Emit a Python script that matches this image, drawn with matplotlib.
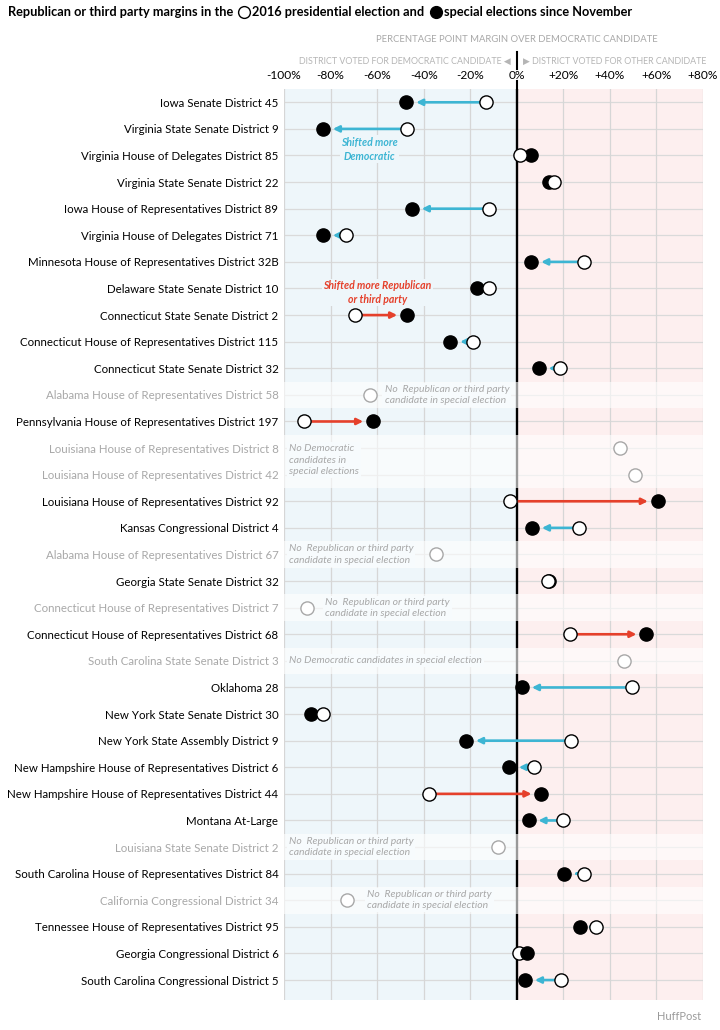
import numpy as np
import matplotlib
matplotlib.use("Agg")
from matplotlib import pyplot as plt
from matplotlib.lines import Line2D

plt.rcParams['font.family'] = ['Lato', 'DejaVu Sans']

nan = np.nan

districts = [
    "Iowa Senate District 45",
    "Virginia State Senate District 9",
    "Virginia House of Delegates District 85",
    "Virginia State Senate District 22",
    "Iowa House of Representatives District 89",
    "Virginia House of Delegates District 71",
    "Minnesota House of Representatives District 32B",
    "Delaware State Senate District 10",
    "Connecticut State Senate District 2",
    "Connecticut House of Representatives District 115",
    "Connecticut State Senate District 32",
    "Alabama House of Representatives District 58",
    "Pennsylvania House of Representatives District 197",
    "Louisiana House of Representatives District 8",
    "Louisiana House of Representatives District 42",
    "Louisiana House of Representatives District 92",
    "Kansas Congressional District 4",
    "Alabama House of Representatives District 67",
    "Georgia State Senate District 32",
    "Connecticut House of Representatives District 7",
    "Connecticut House of Representatives District 68",
    "South Carolina State Senate District 3",
    "Oklahoma 28",
    "New York State Senate District 30",
    "New York State Assembly District 9",
    "New Hampshire House of Representatives District 6",
    "New Hampshire House of Representatives District 44",
    "Montana At-Large",
    "Louisiana State Senate District 2",
    "South Carolina House of Representatives District 84",
    "California Congressional District 34",
    "Tennessee House of Representatives District 95",
    "Georgia Congressional District 6",
    "South Carolina Congressional District 5",
]

# margin in 2016 presidential election (open circles)
pres_2016 = [-13.4, -47.2, 1.3, 15.8, -11.8, -73.4, 28.8, -11.8, -69.3, -18.7,
             18.7, -63.2, -91.5, 44.5, 51.0, -2.9, 26.9, -34.6, 13.2, -90.3,
             22.7, 45.9, 49.4, -83.2, 23.1, 7.5, -37.6, 19.7, -8.2, 28.7,
             -73.0, 34.0, 1.1, 18.8]

# margin in the special election (filled circles), nan = not contested
special = [-47.4, -83.2, 5.9, 14.0, -45.0, -83.2, 6.3, -17.0, -47.2, -28.5,
           9.5, nan, -61.8, nan, nan, 60.5, 6.6, nan, 13.9, nan,
           55.6, nan, 2.3, -88.5, -21.7, -3.3, 10.5, 5.1, nan, 20.4,
           nan, 27.3, 4.3, 3.6]

tick_vals = [-100, -80, -60, -40, -20, 0, 20, 40, 60, 80]
tick_labels = ["-100%", "-80%", "-60%", "-40%", "-20%", "0%",
               "+20%", "+40%", "+60%", "+80%"]

BLUE = "#3db5d3"
RED = "#e5402b"
GRAY = "#a8a8a8"
BG_BLUE = "#eef6fa"
BG_PINK = "#fdefef"

W, H = 720, 1030
fig = plt.figure(figsize=(W / 100, H / 100), dpi=100)
ax = fig.add_axes([284 / W, 1 - 1000 / H, (703 - 284) / W, (1000 - 89) / H])

n = len(districts)
ax.set_xlim(-100, 80)
ax.set_ylim(n - 0.25, -0.5)

ax.axvspan(-100, 0, color=BG_BLUE, zorder=0, lw=0)
ax.axvspan(0, 80, color=BG_PINK, zorder=0, lw=0)
for i in range(n):
    ax.axhline(i, color="#dadada", lw=0.9, zorder=1)
for v in tick_vals:
    if v != 0:
        ax.axvline(v, color="#d6d6d6", lw=0.9, zorder=1)

active = [not np.isnan(s) for s in special]
for i in range(n):
    if not active[i]:
        ax.axhspan(i - 0.5, i + 0.5, color="white", alpha=0.6, zorder=1.5, lw=0)
    ax.plot([0, 0], [i - 0.5, i + 0.5], color="black" if active[i] else "#999999",
            lw=1.7, zorder=2, solid_capstyle="butt")
ax.plot([0, 0], [n - 0.5, n - 0.25], color="black", lw=1.7, zorder=2,
        solid_capstyle="butt")

filled_on_top = {"Georgia Congressional District 6"}
for i, (name, p, s) in enumerate(zip(districts, pres_2016, special)):
    if np.isnan(s):
        ax.plot(p, i, "o", ms=9.5, mfc="white", mec=GRAY, mew=1.0, zorder=4)
        continue
    if abs(s - p) > 6:
        col = BLUE if s < p else RED
        ax.annotate("", xy=(s, i), xytext=(p, i), zorder=3,
                    arrowprops=dict(arrowstyle="-|>", color=col, lw=1.9,
                                    mutation_scale=9, shrinkA=4, shrinkB=7))
    z_open = 4 if name in filled_on_top else 5
    ax.plot(s, i, "o", ms=9.5, mfc="black", mec="black", mew=1.0, zorder=4.5)
    ax.plot(p, i, "o", ms=9.5, mfc="white", mec="black", mew=1.0, zorder=z_open)

# notes
ax.text(-63.3, 1.77, "Shifted more\nDemocratic", color=BLUE, fontsize=7.6,
        fontweight="bold", style="italic", ha="center", va="center",
        linespacing=1.35, zorder=3,
        bbox=dict(facecolor=BG_BLUE, edgecolor="none", pad=1))
ax.text(-59.8, 7.15, "Shifted more Republican\nor third party", color=RED,
        fontsize=7.6, fontweight="bold", style="italic", ha="center",
        va="center", linespacing=1.35, zorder=3,
        bbox=dict(facecolor=BG_BLUE, edgecolor="none", pad=1))

no_rep = "No  Republican or third party\ncandidate in special election"
notes = [
    (no_rep, -56.8, 11),
    ("No Democratic\ncandidates in\nspecial elections", -98, 13.45),
    (no_rep, -98, 17),
    (no_rep, -82.3, 19),
    ("No Democratic candidates in special election", -98, 21),
    (no_rep, -98, 28),
    (no_rep, -64.4, 30),
]
for txt, x, y in notes:
    ax.text(x, y, txt, color=GRAY, fontsize=7.5, style="italic", ha="left",
            va="center", linespacing=1.3, zorder=3,
            bbox=dict(facecolor="#f7fbfd", edgecolor="none", pad=1.5))

ax.xaxis.tick_top()
ax.set_xticks(tick_vals)
ax.set_xticklabels(tick_labels)
ax.set_yticks(range(n))
ax.set_yticklabels(districts)
ax.tick_params(axis="x", length=0, pad=6, labelsize=8.6)
ax.tick_params(axis="y", length=0, pad=4, labelsize=8.3)
for lab, a in zip(ax.get_yticklabels(), active):
    lab.set_color("black" if a else GRAY)
for sp in ax.spines.values():
    sp.set_visible(False)


def fx(px):
    return px / W


def fy(py):
    return 1 - py / H


# header texts
fig.text(fx(517), fy(39), "PERCENTAGE POINT MARGIN OVER DEMOCRATIC CANDIDATE",
         color=GRAY, fontsize=6.8, ha="center", va="center")
fig.text(fx(511), fy(61), "DISTRICT VOTED FOR DEMOCRATIC CANDIDATE \u25c0",
         color="#b5b5b5", fontsize=6.4, ha="right", va="center")
fig.text(fx(523), fy(61), "\u25b6 DISTRICT VOTED FOR OTHER CANDIDATE",
         color="#b5b5b5", fontsize=6.4, ha="left", va="center")
fig.add_artist(Line2D([fx(517), fx(517)], [fy(52), fy(69)], color="black",
                      lw=1.5, transform=fig.transFigure))
fig.add_artist(Line2D([fx(517), fx(517)], [fy(81), fy(89)], color="black",
                      lw=1.5, transform=fig.transFigure))
fig.text(fx(701), fy(1017), "HuffPost", color="#9a9a9a", fontsize=8,
         ha="right", va="center")

# title with inline legend markers
fig.canvas.draw()
r = fig.canvas.get_renderer()
ty = fy(12)
x = 8
parts = [("Republican or third party margins in the ", None),
         ("2016 presidential election and ", "white"),
         ("special elections since November", "black")]
for txt, mk in parts:
    if mk is not None:
        fig.add_artist(Line2D([fx(x + 6)], [ty], marker="o", ms=8.5, mfc=mk,
                              mec="black", mew=1.0, transform=fig.transFigure))
        x += 14
    t = fig.text(fx(x), ty, txt, fontsize=9.2, fontweight="bold",
                 ha="left", va="center")
    bb = t.get_window_extent(r)
    x = bb.x1 + 2

fig.savefig("out.png", dpi=100)
